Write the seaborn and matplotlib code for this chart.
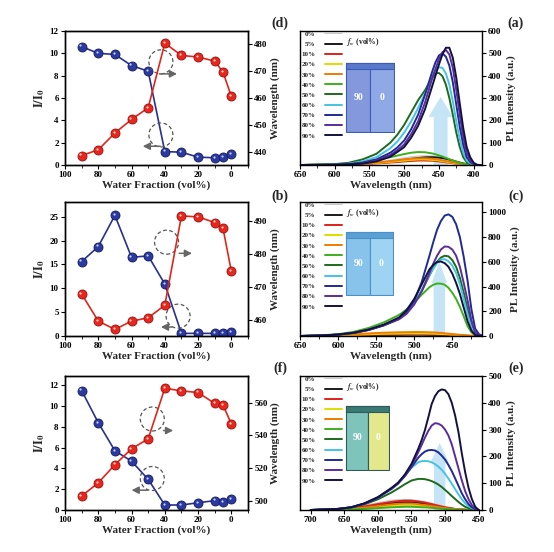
import matplotlib
matplotlib.use("Agg")
import matplotlib.pyplot as plt
import seaborn as sns
from matplotlib.patches import Ellipse, FancyArrow, Rectangle
from matplotlib.ticker import MultipleLocator
from matplotlib.transforms import offset_copy

# water fraction of the mixtures (vol%)
fw = [90, 80, 70, 60, 50, 40, 30, 20, 10, 5, 0]

# (d) I/I0 and emission maximum
d_ratio = [10.6, 10.0, 9.9, 8.9, 8.4, 1.2, 1.15, 0.7, 0.65, 0.7, 1.0]
d_wl = [438.8, 440.9, 447.1, 452.1, 456.4, 480.2, 475.7, 475.1, 473.6, 469.5, 460.6]

# (b)
b_ratio = [15.6, 18.75, 25.3, 16.5, 16.8, 10.9, 0.55, 0.55, 0.55, 0.6, 0.9]
b_wl = [467.9, 459.7, 457.2, 459.7, 460.7, 464.5, 491.5, 491.2, 489.5, 487.7, 474.7]

# (f)
f_ratio = [11.5, 8.4, 5.7, 4.7, 2.95, 0.48, 0.48, 0.7, 0.9, 0.73, 1.05]
f_wl = [502.8, 510.9, 522.0, 531.7, 537.8, 568.7, 567.1, 566.1, 559.4, 558.4, 546.9]

# legend of the spectra
fw_labels = ["0%", "5%", "10%", "20%", "30%", "40%", "50%", "60%", "70%", "80%", "90%"]
fw_colors = ["#c9c9c9", "#1a1a1a", "#e0201b", "#dede00", "#f07a00", "#3cb01c",
             "#1d6a1d", "#45c3e6", "#1f2a94", "#5b2c9c", "#121240"]

# (a) PL spectra
a_x = [390, 395, 400, 405, 410, 415, 420, 425, 430, 435, 440, 445, 450, 455, 460,
       470, 480, 490, 500, 510, 520, 540, 560, 580, 600, 650]
a_0 = [0, 0, 0, 1, 3, 6, 9, 13, 18, 23, 28, 32, 35, 37, 39, 40, 38, 35, 30, 25, 20, 12, 6, 3, 1, 0]
a_5 = [0, 0, 0, 2, 4, 7, 11, 15, 20, 24, 28, 31, 33, 34, 35, 34, 31, 27, 23, 19, 15, 9, 5, 2, 1, 0]
a_10 = [0, 0, 0, 0, 1, 2, 4, 6, 8, 10, 12, 14, 16, 18, 19, 20, 20, 18, 16, 13, 11, 7, 4, 2, 1, 0]
a_20 = [0, 0, 0, 0, 1, 3, 5, 7, 10, 12, 15, 17, 20, 22, 23, 25, 25, 23, 20, 17, 14, 9, 5, 2, 1, 0]
a_30 = [0, 0, 0, 1, 2, 4, 6, 9, 12, 15, 18, 21, 24, 26, 28, 30, 30, 28, 25, 21, 17, 11, 6, 3, 1, 0]
a_40 = [0, 0, 0, 1, 3, 6, 10, 15, 20, 26, 32, 38, 43, 48, 52, 57, 58, 55, 49, 42, 35, 22, 12, 6, 2, 0]
a_50 = [0, 0, 1, 4, 12, 35, 80, 145, 225, 300, 360, 398, 412, 410, 390, 335, 290, 235, 180, 135,
        100, 50, 25, 10, 4, 0]
a_60 = [0, 0, 2, 8, 20, 55, 115, 195, 285, 360, 410, 435, 438, 425, 395, 320, 255, 195, 145, 105,
        75, 35, 16, 6, 2, 0]
a_70 = [0, 0, 3, 14, 35, 90, 170, 270, 370, 445, 485, 500, 490, 460, 415, 315, 225, 160, 110, 78,
        55, 25, 11, 4, 1, 0]
a_80 = [0, 0, 5, 22, 55, 125, 225, 335, 435, 495, 515, 505, 475, 430, 385, 280, 195, 138, 92, 66,
        45, 20, 8, 3, 1, 0]
a_90 = [0, 1, 10, 35, 80, 165, 275, 390, 480, 525, 525, 495, 450, 400, 350, 250, 175, 122, 80, 58,
        37, 16, 6, 3, 1, 0]
a_curves = [a_0, a_5, a_10, a_20, a_30, a_40, a_50, a_60, a_70, a_80, a_90]

# (c) PL spectra
c_x = [410, 415, 420, 425, 430, 435, 440, 445, 450, 455, 460, 465, 470, 475, 480,
       490, 500, 510, 520, 540, 560, 580, 600, 620, 650]
c_0 = [0, 0, 0, 0, 1, 1, 2, 3, 4, 5, 6, 6, 7, 7, 8, 9, 9, 9, 8, 7, 6, 4, 2, 1, 0]
c_5 = [0, 0, 0, 0, 1, 2, 3, 4, 5, 6, 7, 8, 9, 9, 10, 11, 11, 11, 10, 9, 7, 5, 3, 1, 0]
c_10 = [0, 0, 0, 1, 2, 3, 5, 6, 8, 9, 11, 12, 13, 14, 15, 16, 16, 16, 15, 13, 10, 7, 4, 1, 0]
c_20 = [0, 0, 0, 1, 3, 5, 7, 9, 11, 13, 15, 16, 18, 19, 20, 21, 21, 21, 20, 18, 14, 9, 5, 2, 0]
c_30 = [0, 0, 1, 2, 4, 7, 10, 13, 16, 19, 22, 25, 27, 29, 30, 32, 32, 31, 30, 27, 21, 14, 8, 3, 0]
c_40 = [0, 1, 5, 30, 80, 160, 235, 300, 350, 390, 415, 424, 425, 415, 395, 335, 270, 215, 170, 110,
        65, 33, 15, 6, 0]
c_50 = [0, 4, 18, 95, 220, 350, 470, 560, 615, 645, 650, 635, 600, 550, 490, 365, 265, 190, 140, 88,
        50, 25, 11, 4, 0]
c_60 = [0, 3, 12, 70, 175, 300, 420, 510, 570, 605, 622, 620, 590, 545, 495, 375, 270, 195, 142, 88,
        50, 25, 11, 4, 0]
c_70 = [0, 15, 60, 220, 450, 640, 800, 905, 965, 985, 975, 930, 860, 760, 650, 440, 285, 195, 140, 88,
        50, 25, 12, 5, 0]
c_80 = [0, 8, 30, 130, 290, 430, 560, 650, 700, 722, 725, 700, 650, 585, 510, 365, 255, 180, 135, 85,
        48, 24, 11, 4, 0]
c_90 = [0, 2, 8, 45, 120, 230, 340, 430, 505, 560, 590, 603, 600, 575, 540, 420, 300, 210, 150, 92,
        52, 26, 12, 4, 0]
c_curves = [c_0, c_5, c_10, c_20, c_30, c_40, c_50, c_60, c_70, c_80, c_90]

# (e) PL spectra
e_x = [450, 455, 460, 465, 470, 475, 480, 485, 490, 495, 500, 505, 510, 515, 520, 525, 530, 535,
       540, 550, 560, 570, 580, 600, 620, 640, 660, 700]
e_0 = [0, 0, 0, 0, 1, 2, 3, 4, 6, 9, 12, 15, 18, 21, 24, 27, 29, 31, 33, 36, 38, 37, 35, 26, 16, 8, 3, 0]
e_5 = [0, 0, 0, 0, 1, 1, 2, 3, 5, 6, 8, 10, 13, 15, 18, 20, 23, 25, 27, 29, 29, 28, 25, 18, 11, 5, 2, 0]
e_10 = [0, 0, 0, 0, 1, 2, 3, 4, 6, 8, 10, 13, 16, 19, 22, 25, 28, 30, 32, 35, 35, 33, 30, 22, 13, 6, 2, 0]
e_20 = [0, 0, 0, 0, 0, 0, 1, 2, 3, 4, 5, 6, 8, 9, 11, 12, 14, 15, 16, 17, 17, 16, 15, 11, 6, 3, 1, 0]
e_30 = [0, 0, 0, 0, 1, 1, 2, 3, 4, 5, 7, 9, 11, 13, 15, 17, 19, 20, 22, 24, 24, 23, 21, 15, 9, 4, 1, 0]
e_40 = [0, 0, 0, 0, 0, 0, 1, 1, 2, 3, 4, 5, 6, 7, 8, 9, 10, 10, 11, 12, 12, 11, 10, 7, 4, 2, 1, 0]
e_50 = [0, 1, 3, 7, 12, 20, 30, 41, 52, 64, 75, 86, 95, 102, 108, 112, 115, 116, 116, 110, 96, 80,
        65, 40, 21, 9, 3, 0]
e_60 = [0, 2, 6, 14, 25, 40, 58, 78, 98, 117, 135, 150, 162, 171, 178, 182, 183, 182, 178, 158, 128,
        100, 80, 47, 24, 10, 4, 0]
e_70 = [0, 3, 10, 22, 40, 62, 90, 118, 145, 168, 188, 203, 215, 222, 224, 223, 218, 208, 195, 160,
        126, 98, 78, 46, 23, 10, 4, 0]
e_80 = [0, 6, 18, 40, 70, 110, 155, 200, 245, 278, 300, 315, 322, 324, 315, 295, 270, 242, 215, 165,
        128, 100, 80, 47, 24, 10, 4, 0]
e_90 = [0, 12, 40, 82, 140, 210, 290, 352, 400, 432, 447, 450, 443, 425, 395, 345, 298, 260, 228, 172,
        132, 102, 82, 48, 25, 10, 4, 0]
e_curves = [e_0, e_5, e_10, e_20, e_30, e_40, e_50, e_60, e_70, e_80, e_90]

sns.set_theme(style="ticks")
plt.rcParams["font.family"] = ["Liberation Serif", "DejaVu Serif"]
plt.rcParams["font.weight"] = "bold"
plt.rcParams["axes.labelweight"] = "bold"
plt.rcParams["mathtext.fontset"] = "stix"
plt.rcParams["axes.edgecolor"] = "black"
plt.rcParams["xtick.color"] = "black"
plt.rcParams["ytick.color"] = "black"
plt.rcParams["axes.linewidth"] = 1.0

fig = plt.figure(figsize=(5.54, 5.52), dpi=100)

BLUE = "#27318f"
RED = "#e0261c"
W, H = 554.0, 552.0


def rect(x0, x1, y0, y1):
    return [x0 / W, 1 - y1 / H, (x1 - x0) / W, (y1 - y0) / H]


def style_ticks(ax):
    ax.tick_params(labelsize=6.5, length=3, width=0.8, pad=1.5)
    ax.tick_params(which="minor", length=1.8, width=0.6)


def ratio_panel(box, ratio, wl, lim1, lim2, step1, step2, circles, arrows):
    ax = fig.add_axes(box)
    ax2 = ax.twinx()
    sns.lineplot(x=fw, y=ratio, ax=ax, sort=False, color=BLUE, linewidth=1.2,
                 marker="o", markersize=6.5, markerfacecolor="#2b3aa0",
                 markeredgecolor="#151a5c", markeredgewidth=0.6)
    sns.lineplot(x=fw, y=wl, ax=ax2, sort=False, color=RED, linewidth=1.2,
                 marker="o", markersize=6.5, markerfacecolor="#e8261c",
                 markeredgecolor="#9a1010", markeredgewidth=0.6)
    shine1 = offset_copy(ax.transData, fig=fig, x=-1.2, y=1.2, units="dots")
    shine2 = offset_copy(ax2.transData, fig=fig, x=-1.2, y=1.2, units="dots")
    ax.scatter(fw, ratio, s=2.5, color="#c8d0ff", transform=shine1, zorder=5, linewidths=0)
    ax2.scatter(fw, wl, s=2.5, color="#ffd8d0", transform=shine2, zorder=5, linewidths=0)
    ax.set_xlim(100, -10)
    ax.set_ylim(*lim1)
    ax2.set_ylim(*lim2)
    ax.xaxis.set_major_locator(MultipleLocator(20))
    ax.xaxis.set_minor_locator(MultipleLocator(10))
    ax.yaxis.set_major_locator(MultipleLocator(step1))
    ax2.yaxis.set_major_locator(MultipleLocator(step2))
    style_ticks(ax)
    style_ticks(ax2)
    ax.set_xlabel("Water Fraction (vol%)", fontsize=8, labelpad=1)
    ax.set_ylabel(r"$\mathbf{I/I_0}$", fontsize=9, labelpad=2)
    ax2.set_ylabel("Wavelength (nm)", fontsize=8, labelpad=2)
    for cx, cy in circles:
        ax2.add_patch(Ellipse((cx, cy), 24 / 183, 24 / 134, transform=ax2.transAxes,
                              fill=False, ec="#555555", lw=0.9, ls=(0, (3, 2))))
    for x0, x1, y in arrows:
        ax2.annotate("", xy=(x1, y), xytext=(x0, y), xycoords="axes fraction",
                     arrowprops=dict(arrowstyle="-|>,head_length=0.35,head_width=0.18",
                                     color="#666666", lw=1.1))
    return ax


def pl_panel(box, x, curves, xlim, ylim, ystep, arrow):
    ax = fig.add_axes(box)
    ax.add_patch(FancyArrow(arrow[0], 0, 0, arrow[1], width=arrow[2], head_width=arrow[3],
                            head_length=arrow[4], length_includes_head=True,
                            color="#9fd3f0", alpha=0.6, lw=0))
    for y, c, lab in zip(curves, fw_colors, fw_labels):
        sns.lineplot(x=x, y=y, ax=ax, color=c, linewidth=1.4, label=lab)
    ax.set_xlim(*xlim)
    ax.set_ylim(*ylim)
    ax.xaxis.set_major_locator(MultipleLocator(50))
    ax.xaxis.set_minor_locator(MultipleLocator(25))
    ax.yaxis.set_major_locator(MultipleLocator(ystep))
    ax.yaxis.tick_right()
    ax.yaxis.set_label_position("right")
    style_ticks(ax)
    ax.set_xlabel("Wavelength (nm)", fontsize=8, labelpad=1)
    ax.set_ylabel("PL Intensity (a.u.)", fontsize=8, labelpad=3)
    ax.legend(loc="upper left", bbox_to_anchor=(0.0, 1.01), frameon=False, fontsize=5,
              markerfirst=False, handlelength=2.4, handletextpad=1.4,
              labelspacing=0.62, borderaxespad=0.1, borderpad=0.1)
    ax.text(0.25, 0.92, "$f_w$ (vol%)", transform=ax.transAxes, fontsize=5.5,
            ha="left", va="center")
    return ax


def photo(box, left_c, right_c, edge, top_c):
    pax = fig.add_axes(box)
    pax.set_axis_off()
    pax.set_xlim(0, 1)
    pax.set_ylim(0, 1)
    pax.add_patch(Rectangle((0.02, 0.02), 0.48, 0.96, fc=left_c, ec=edge, lw=0.8))
    pax.add_patch(Rectangle((0.5, 0.02), 0.48, 0.96, fc=right_c, ec=edge, lw=0.8))
    pax.add_patch(Rectangle((0.02, 0.9), 0.96, 0.08, fc=top_c, ec=edge, lw=0.8))
    pax.text(0.27, 0.5, "90", color="white", fontsize=7, ha="center", va="center")
    pax.text(0.74, 0.5, "0", color="white", fontsize=7, ha="center", va="center")


# left column: I/I0 and emission maximum
ratio_panel(rect(65, 248, 31, 165), d_ratio, d_wl, (0, 12), (435.3, 484.7), 2, 10,
            [(0.524, 0.77), (0.524, 0.224)],
            [(0.50, 0.627, 0.68), (0.536, 0.41, 0.14)])
ratio_panel(rect(65, 248, 202, 336), b_ratio, b_wl, (0, 28.1), (455.2, 495.7), 5, 10,
            [(0.555, 0.70), (0.618, 0.148)],
            [(0.609, 0.709, 0.617), (0.60, 0.509, 0.067)])
ratio_panel(rect(65, 248, 376, 510), f_ratio, f_wl, (0, 12.9), (494.3, 576.2), 2, 20,
            [(0.477, 0.679), (0.477, 0.235)],
            [(0.523, 0.606, 0.593), (0.468, 0.349, 0.148)])

# right column: PL spectra
pl_panel(rect(300, 482, 31, 165), a_x, a_curves, (650, 388), (0, 600), 100,
         (447.5, 305, 20, 35, 90))
pl_panel(rect(300, 482, 202, 336), c_x, c_curves, (650, 411), (0, 1085), 200,
         (467, 600, 15, 20, 170))
pl_panel(rect(300, 482, 376, 510), e_x, e_curves, (716, 445), (0, 500), 100,
         (508, 250, 17, 28, 74))

photo(rect(345, 395, 62, 133), "#8399dc", "#8fa8e6", "#3d5cb8", "#5a78cc")
photo(rect(345, 394, 231, 296), "#87c3ea", "#9fd3f2", "#4d90c8", "#5aa0d4")
photo(rect(345, 390, 405, 471), "#7ec4bc", "#e4e88c", "#2e5a58", "#3a7a74")

for lab, x, y in [("(d)", 280, 23), ("(a)", 516, 23), ("(b)", 280, 196),
                  ("(c)", 516, 196), ("(f)", 280, 368), ("(e)", 516, 368)]:
    fig.text(x / W, 1 - y / H, lab, fontsize=10, ha="center", va="center")

fig.savefig("out.png", dpi=100)
